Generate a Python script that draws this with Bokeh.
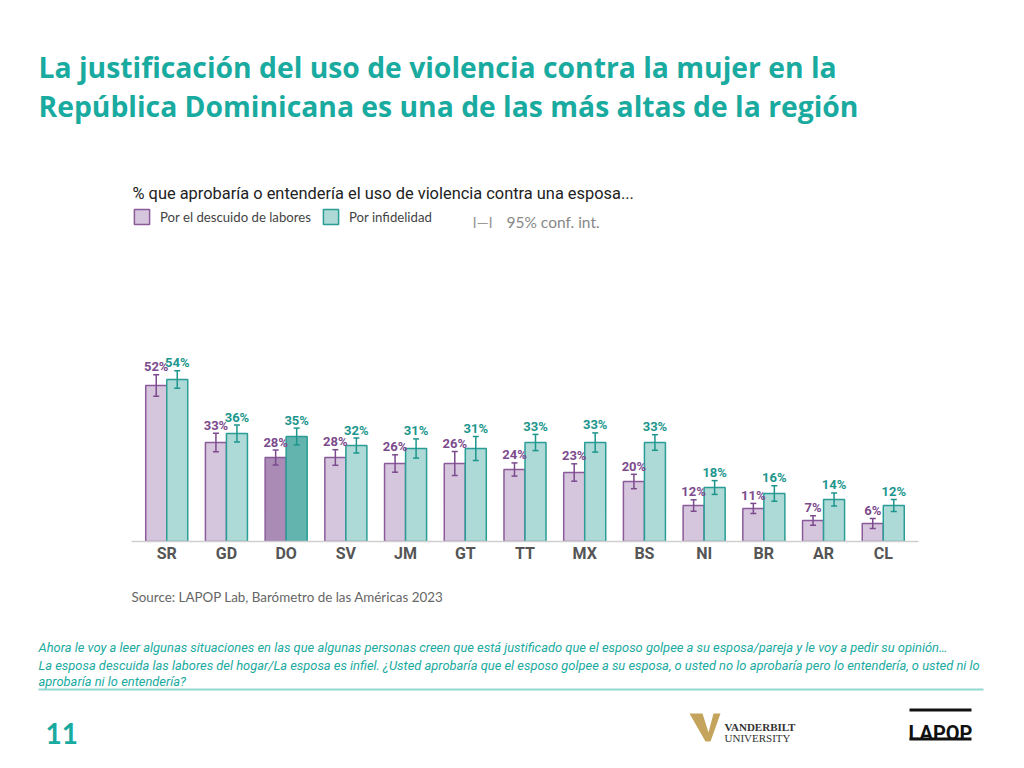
from bokeh.plotting import figure
from bokeh.layouts import column
from bokeh.models import (ColumnDataSource, FactorRange, Range1d, Label, Legend, LegendItem,
                          Whisker, TeeHead)
from bokeh.core.properties import value
from bokeh.transform import dodge
from bokeh.embed import file_html
from bokeh.resources import INLINE

# ---------------- data ----------------
countries = ["SR", "GD", "DO", "SV", "JM", "GT", "TT", "MX", "BS", "NI", "BR", "AR", "CL"]
descuido = [52, 33, 28, 28, 26, 26, 24, 23, 20, 12, 11, 7, 6]
descuido_ci = [3.6, 3.1, 2.5, 2.6, 2.9, 4.0, 2.2, 2.9, 2.4, 1.9, 1.7, 1.6, 1.7]
infidelidad = [54, 36, 35, 32, 31, 31, 33, 33, 33, 18, 16, 14, 12]
infidelidad_ci = [2.9, 2.8, 2.8, 2.5, 3.2, 4.0, 2.7, 3.2, 2.6, 2.3, 2.6, 2.2, 2.0]
highlight = "DO"

title_lines = ["La justificación del uso de violencia contra la mujer en la",
               "República Dominicana es una de las más altas de la región"]
subtitle = "% que aprobaría o entendería el uso de violencia contra una esposa..."
series_names = ["Por el descuido de labores", "Por infidelidad"]
ci_text = "95% conf. int."
source_text = "Source: LAPOP Lab, Barómetro de las Américas 2023"
notes = ["Ahora le voy a leer algunas situaciones en las que algunas personas creen que está justificado "
         "que el esposo golpee a su esposa/pareja y le voy a pedir su opinión\u2026",
         "La esposa descuida las labores del hogar/La esposa es infiel. ¿Usted aprobaría que el esposo golpee "
         "a su esposa, o usted no lo aprobaría pero lo entendería, o usted ni lo",
         "aprobaría ni lo entendería?"]
page_number = "11"

# ---------------- layout constants (page px) ----------------
W = 1008
HEAD_H = 170
CHART_TOP, CHART_H = 170, 410
FOOT_TOP, FOOT_H = 580, 182
FL, FR = 131, 918      # chart frame left/right on page
FB = 541               # chart frame bottom (baseline) on page
PX_PER_PCT = 3.0

P_LINE, P_FILL, P_FILL_HI, P_TXT = "#8a5a9b", "#d6c6dd", "#a98bb6", "#7c4b8e"
T_LINE, T_FILL, T_FILL_HI, T_TXT = "#2a9d96", "#add9d6", "#63b4ae", "#1c968d"
TEAL = "#19aaa0"


def blank_fig(h):
    f = figure(width=W, height=h, output_backend="svg", toolbar_location=None,
               x_range=Range1d(0, W), y_range=Range1d(h, 0),
               x_axis_location=None, y_axis_location=None, min_border=0, frame_align=False)
    f.outline_line_color = None
    f.grid.visible = False
    return f


def put(f, top, text, px, py, size, color, font="Lato", style="normal", align="left"):
    f.text(x=[px], y=[py - top], text=[text], text_font=value(font), text_font_size=size,
           text_font_style=style, text_color=color, text_align=align, text_baseline="alphabetic")


# ---------------- header ----------------
head = blank_fig(HEAD_H)
put(head, 0, title_lines[0], 38, 66, "28.3px", TEAL, font="Open Sans", style="bold")
put(head, 0, title_lines[1], 38, 105, "28.3px", TEAL, font="Open Sans", style="bold")

# ---------------- chart ----------------
p_fill = [P_FILL_HI if c == highlight else P_FILL for c in countries]
t_fill = [T_FILL_HI if c == highlight else T_FILL for c in countries]

src = ColumnDataSource(dict(
    cat=countries,
    d=descuido, d_up=[v + e for v, e in zip(descuido, descuido_ci)],
    d_lo=[v - e for v, e in zip(descuido, descuido_ci)],
    d_lab=[f"{v}%" for v in descuido], d_fill=p_fill,
    i=infidelidad, i_up=[v + e for v, e in zip(infidelidad, infidelidad_ci)],
    i_lo=[v - e for v, e in zip(infidelidad, infidelidad_ci)],
    i_lab=[f"{v}%" for v in infidelidad], i_fill=t_fill,
))

frame_h = FB - CHART_TOP
p = figure(width=W, height=CHART_H, output_backend="svg", toolbar_location=None,
           x_range=FactorRange(*countries, range_padding=0.09, range_padding_units="absolute"),
           y_range=Range1d(0, frame_h / PX_PER_PCT),
           y_axis_location=None, frame_align=False,
           min_border_left=FL, min_border_right=W - FR,
           min_border_top=0, min_border_bottom=CHART_H - frame_h)
p.outline_line_color = None
p.grid.visible = False


def sx(px):
    return px - FL


def sy(py):
    return FB - py


OFF, BW = 0.176, 0.352
r1 = p.vbar(x=dodge("cat", -OFF, range=p.x_range), top="d", width=BW, source=src,
            fill_color="d_fill", line_color=P_LINE, line_width=1.5)
r2 = p.vbar(x=dodge("cat", OFF, range=p.x_range), top="i", width=BW, source=src,
            fill_color="i_fill", line_color=T_LINE, line_width=1.5)

for off, up, lo, col in [(-OFF, "d_up", "d_lo", P_TXT), (OFF, "i_up", "i_lo", T_TXT)]:
    wk = Whisker(source=src, base=dodge("cat", off, range=p.x_range), upper=up, lower=lo,
                 line_color=col, line_width=1.5, level="overlay",
                 upper_head=TeeHead(size=6, line_color=col, line_width=1.5),
                 lower_head=TeeHead(size=6, line_color=col, line_width=1.5))
    p.add_layout(wk)

p.text(x=dodge("cat", -OFF, range=p.x_range), y="d_up", text="d_lab", source=src,
       text_align="center", text_baseline="alphabetic", y_offset=-8,
       text_font=value("Roboto"), text_font_style="bold", text_font_size="13px", text_color=P_TXT)
p.text(x=dodge("cat", OFF, range=p.x_range), y="i_up", text="i_lab", source=src,
       text_align="center", text_baseline="alphabetic", y_offset=-8,
       text_font=value("Roboto"), text_font_style="bold", text_font_size="13px", text_color=T_TXT)

ax = p.xaxis[0]
ax.axis_line_color = "#cfcfcf"
ax.axis_line_width = 1.5
ax.major_tick_line_color = None
ax.minor_tick_line_color = None
ax.major_tick_out = 0
ax.major_tick_in = 0
ax.major_label_standoff = 2
ax.major_label_text_font = "Roboto"
ax.major_label_text_font_style = "bold"
ax.major_label_text_font_size = "16px"
ax.major_label_text_color = "#555555"

legend = Legend(items=[LegendItem(label=series_names[0], renderers=[r1], index=0),
                       LegendItem(label=series_names[1], renderers=[r2], index=0)],
                orientation="horizontal", location=(sx(132), sy(226)),
                glyph_width=19, glyph_height=19, label_standoff=9, spacing=10,
                padding=0, margin=0, border_line_color=None, background_fill_alpha=0,
                label_text_font="Lato", label_text_font_size="13.2px", label_text_color="#444444",
                label_height=19)
p.add_layout(legend)


def lab(text, px, py, size, color, font="Lato", style="normal", align="left"):
    p.add_layout(Label(x=sx(px), y=sy(py), x_units="screen", y_units="screen", text=text,
                       text_font=font, text_font_size=size, text_font_style=style,
                       text_color=color, text_align=align, text_baseline="alphabetic"))


lab(subtitle, 132, 193, "16.4px", "#222222", font="Roboto")
lab("I\u2014I", 472, 221, "15px", "#999999", font="Lato")
lab(ci_text, 506, 221, "15.5px", "#888888", font="Lato")

# ---------------- footer ----------------
foot = blank_fig(FOOT_H)
put(foot, FOOT_TOP, source_text, 131, 596, "13.4px", "#666666")
for txt, yb in zip(notes, [647, 665, 681]):
    put(foot, FOOT_TOP, txt, 38, yb, "12.9px", TEAL, font="Roboto", style="italic")
foot.quad(left=[38], right=[983], top=[688 - FOOT_TOP], bottom=[690 - FOOT_TOP],
          fill_color="#93d8d1", line_color=None)
put(foot, FOOT_TOP, page_number, 45, 733, "28px", TEAL, style="bold")
# Vanderbilt logo (decorative)
foot.patch(x=[689, 702, 708, 713, 720, 710, 705],
           y=[713 - FOOT_TOP, 713 - FOOT_TOP, 732 - FOOT_TOP, 713 - FOOT_TOP, 713 - FOOT_TOP,
              741 - FOOT_TOP, 741 - FOOT_TOP],
           fill_color="#c4a35c", line_color=None)
put(foot, FOOT_TOP, "VANDERBILT", 724, 726, "11px", "#333333", font="Liberation Serif", style="bold")
put(foot, FOOT_TOP, "UNIVERSITY", 724, 737, "11px", "#333333", font="Liberation Serif")
# LAPOP logo (decorative)
put(foot, FOOT_TOP, "LAPOP", 940, 732, "20px", "#111111", font="Roboto", style="bold", align="center")
foot.quad(left=[909, 909], right=[971, 971], top=[708 - FOOT_TOP, 737 - FOOT_TOP],
          bottom=[711 - FOOT_TOP, 740 - FOOT_TOP], fill_color="#111111", line_color=None)

layout = column(head, p, foot, spacing=0)
open("out.html", "w").write(file_html(layout, INLINE))
